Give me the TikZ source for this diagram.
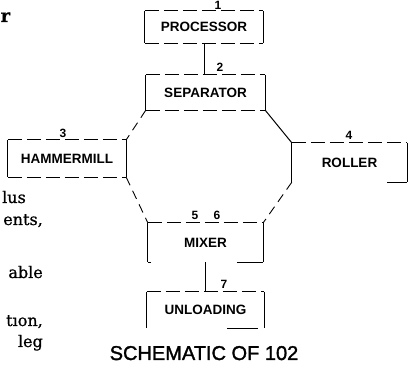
\documentclass[tikz,border=0pt]{standalone}
\usepackage{fontspec}
\newfontfamily\sansf{Liberation Sans}
\newfontfamily\capsansf[FakeBold=1.5]{Liberation Sans}
\newfontfamily\prosef[FakeBold=0.8]{DejaVu Serif}
\newcommand\lblfont{\sansf\bfseries\fontsize{13.5}{15}\selectfont}
\newcommand\numfont{\sansf\bfseries\fontsize{12}{14}\selectfont}
\newcommand\capfont{\capsansf\fontsize{20}{22}\selectfont}
\newcommand\prosefont{\prosef\fontsize{16}{18}\selectfont}
\begin{document}
\begin{tikzpicture}[x=1pt,y=-1pt,
  boxnode/.style={inner sep=0pt, font=\lblfont},
  vside/.style={line width=1.2pt},
  hside/.style={line width=1.1pt, dash pattern=on 14pt off 5pt},
  link/.style={line width=1pt},
  brokenlink/.style={line width=0.9pt, dash pattern=on 9pt off 6pt},
  num/.style={font=\numfont, inner sep=0pt, anchor=base},
  prose/.style={font=\prosefont, inner sep=0pt, anchor=base east}]
\useasboundingbox (0,0) rectangle (408,374);

% boxes
\node[boxnode, minimum width=118pt, minimum height=32pt] (p) at (204,27) {PROCESSOR};
\node[boxnode, minimum width=119pt, minimum height=35pt] (s) at (205.5,92.5) {SEPARATOR};
\node[boxnode, minimum width=118pt, minimum height=37pt] (h) at (67,158.5) {HAMMERMILL};
\node[boxnode, minimum width=115pt, minimum height=39pt] (r) at (349.5,162.5) {ROLLER};
\node[boxnode, minimum width=115pt, minimum height=39pt] (m) at (205.5,242.5) {MIXER};
\node[boxnode, minimum width=117pt, minimum height=36pt] (u) at (205.5,310) {UNLOADING};

% box borders
\foreach \b in {p,s,h,r,m,u}{
  \draw[vside] (\b.north west) -- (\b.south west);
  \draw[vside] (\b.north east) -- (\b.south east);
  \draw[hside] (\b.north west) -- (\b.north east);
}
\foreach \b in {p,s,h}{
  \draw[hside] (\b.south west) -- (\b.south east);
}
\draw[vside] ([xshift=-20pt]r.south east) -- (r.south east);
\draw[vside] ([xshift=-26pt]m.south east) -- (m.south east);
\draw[vside] (m.south west) -- ([xshift=3pt]m.south west);
\draw[vside] ([xshift=-37pt]u.south east) -- ([xshift=-6pt]u.south east);

% connectors
\draw[link] (p.south) -- (p.south |- s.north);
\draw[link] (m.south) -- (m.south |- u.north);
\draw[brokenlink] (s.south west) -- (h.north east);
\draw[brokenlink] (h.south east) -- (m.north west);
\draw[link] (s.south east) -- (r.north west);
\draw[brokenlink] (r.south west) -- (m.north east);

% numbers
\node[num] (n1) at (218,9.5) {1};
\node[num] (n2) at (220,72) {2};
\node[num] (n3) at (63,138) {3};
\node[num] (n4) at (349,140) {4};
\node[num] (n5) at (195,220) {5};
\node[num] (n6) at (217,220) {6};
\node[num] (n7) at (224,289) {7};

% caption
\node[font=\capfont, inner sep=0pt, anchor=base] (cap) at (204,360) {SCHEMATIC OF 102};

% cropped body text on the left
\node[font=\prosef\bfseries\fontsize{18}{20}\selectfont, inner sep=0pt, anchor=base west] (t0) at (0.5,22) {r};
\node[prose] (t1) at (26,203) {lus};
\node[prose] (t2) at (43,225) {ents,};
\node[prose] (t3) at (43,278) {able};
\node[prose] (t4) at (43,326) {tıon,};
\node[prose] (t5) at (43,347) {leg};
\end{tikzpicture}
\end{document}
